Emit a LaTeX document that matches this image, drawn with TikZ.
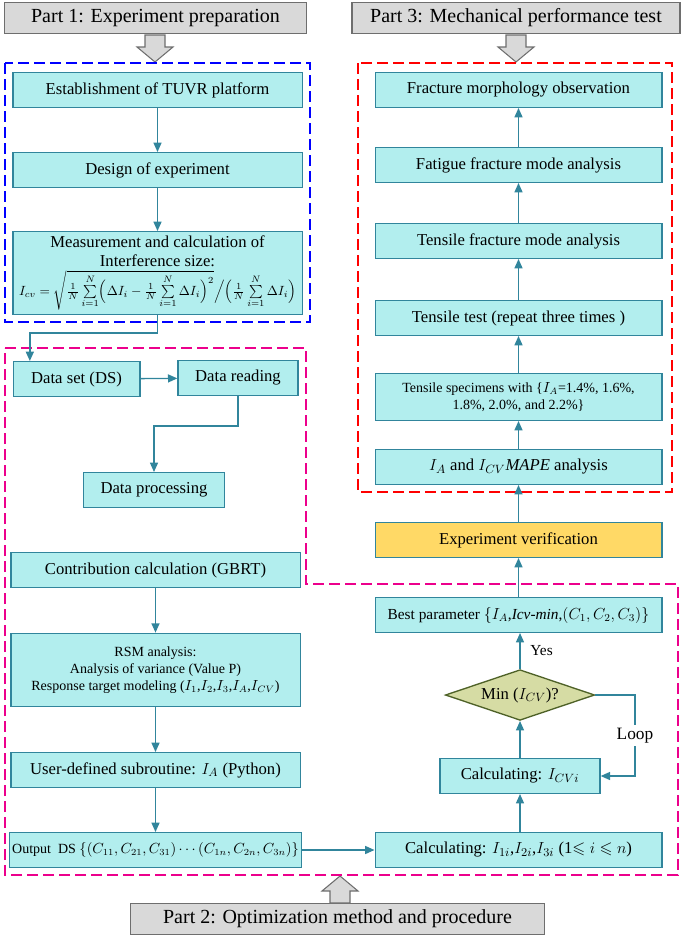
\documentclass[tikz,border=0pt]{standalone}
\usepackage{amssymb}
\usepackage{fontspec}
\setmainfont{Liberation Serif}
\usetikzlibrary{arrows.meta,shapes.geometric}
\definecolor{boxfill}{RGB}{178,238,238}
\definecolor{boxline}{RGB}{49,133,156}
\definecolor{headfill}{RGB}{217,217,217}
\definecolor{headline}{RGB}{110,110,110}
\definecolor{verfill}{RGB}{255,217,102}
\definecolor{decfill}{RGB}{214,220,164}
\definecolor{decline}{RGB}{79,98,40}
\tikzset{
  box/.style={draw=boxline, fill=boxfill, line width=1pt, minimum height=26pt, align=center, inner sep=2pt, font=\fontsize{12.5}{14}\selectfont},
  lbox/.style={box, minimum width=217pt},
  rbox/.style={box, minimum width=215pt},
  head/.style={draw=headline, fill=headfill, line width=0.8pt, minimum height=23pt, font=\fontsize{15}{17}\selectfont},
  flow/.style={draw=boxline, line width=1pt, -{Triangle[length=7pt,width=6pt]}},
  blockarr/.style={draw=headline, fill=headfill, line width=0.8pt},
}
\begin{document}
\begin{tikzpicture}[x=0.75pt,y=0.75pt,yscale=-1,xscale=1]
\useasboundingbox (0,0) rectangle (685,939);

% headers
\node[head, minimum width=226pt] (part1) at (155.5,18) {Part 1: Experiment preparation};
\node[head, minimum width=246pt] (part3) at (516,18) {Part 3: Mechanical performance test};
\node[head, minimum width=311pt] (part2) at (337.5,919) {Part 2: Optimization method and procedure};

\draw[blockarr] (145,35) -- (165,35) -- (165,47) -- (173,47) -- (155,62) -- (137,47) -- (145,47) -- cycle;
\draw[blockarr] (506,35) -- (526,35) -- (526,47) -- (534,47) -- (516,62) -- (498,47) -- (506,47) -- cycle;
\draw[blockarr] (330,903) -- (350,903) -- (350,891) -- (358,891) -- (340,876) -- (322,891) -- (330,891) -- cycle;

% dashed frames
\draw[blue, line width=1pt, dash pattern=on 8pt off 4pt] (5,63) rectangle (310,322);
\draw[red, line width=1pt, dash pattern=on 8pt off 4pt] (358,63) rectangle (672,492);
\draw[magenta, line width=1pt, dash pattern=on 8pt off 4pt] (5,348) -- (306,348) -- (306,584) -- (678,584) -- (678,875) -- (5,875) -- cycle;

% part 1
\node[lbox, minimum height=62pt, inner sep=1pt, font=\fontsize{12.5}{14.5}\selectfont] (meas) at (157.5,273) {Measurement and calculation of\\Interference size:\\[2pt]
  {\fontsize{9.8}{11}\selectfont $I_{cv}=\sqrt{\frac{1}{N}\sum\limits_{i=1}^{N}\Bigl(\Delta I_i-\frac{1}{N}\sum\limits_{i=1}^{N}\Delta I_i\Bigr)^{2}}\Big/\Bigl(\frac{1}{N}\sum\limits_{i=1}^{N}\Delta I_i\Bigr)$}};
\node[lbox] (est) at (157.5,90) {Establishment of TUVR platform};
\node[lbox] (design) at (157.5,170) {Design of experiment};

% part 2 left
\node[box, minimum width=95pt] (ds) at (76.5,379) {Data set (DS)};
\node[box, minimum width=90pt] (read) at (238,378) {Data reading};
\node[box, minimum width=106pt] (proc) at (154,490) {Data processing};
\node[lbox] (contrib) at (155.5,570) {Contribution calculation (GBRT)};
\node[lbox, minimum height=55pt, font=\fontsize{10.5}{13}\selectfont] (rsm) at (155.5,670) {RSM analysis:\\Analysis of variance (Value P)\\Response target modeling ($I_1$,$I_2$,$I_3$,$I_A$,$I_{CV}$)};
\node[lbox] (user) at (155.5,770) {User-defined subroutine: $I_A$ (Python)};
\node[lbox, font=\fontsize{10.5}{13}\selectfont] (out) at (155.5,850) {Output\ \ DS $\{(C_{11},C_{21},C_{31})\cdots(C_{1n},C_{2n},C_{3n})\}$};

% part 2 right
\node[rbox] (calc) at (518.5,850) {Calculating: $I_{1i}$,$I_{2i}$,$I_{3i}$ (1$\leqslant i\leqslant n$)};
\node[box, minimum width=120pt] (calci) at (520,776) {Calculating: $I_{CVi}$};
\node[diamond, draw=decline, fill=decfill, line width=1pt, minimum width=112pt, minimum height=38pt, aspect=3, inner sep=0pt, font=\fontsize{12.5}{14}\selectfont] (minicv) at (520,695) {Min ($I_{CV}$)?};
\node[rbox, font=\fontsize{11.5}{14}\selectfont] (best) at (518.5,615) {Best parameter $\{I_A$,\textit{Icv-min},$(C_1,C_2,C_3)\}$};
\node[rbox, fill=verfill] (verif) at (518.5,540) {Experiment verification};

% part 3
\node[rbox] (mape) at (518.5,467) {$I_A$ and $I_{CV}$\textit{MAPE} analysis};
\node[rbox, minimum height=35pt, font=\fontsize{10.5}{13}\selectfont] (spec) at (518.5,397) {Tensile specimens with \{$I_A$=1.4\%, 1.6\%,\\1.8\%, 2.0\%, and 2.2\%\}};
\node[rbox] (ttest) at (518.5,318) {Tensile test (repeat three times )};
\node[rbox] (tfrac) at (518.5,241) {Tensile fracture mode analysis};
\node[rbox] (fatig) at (518.5,165) {Fatigue fracture mode analysis};
\node[rbox] (frac) at (518.5,90) {Fracture morphology observation};

\coordinate (loopr) at (635,695);

% connectors
\draw[flow] (meas.south) -- ++(0,18) -| ([xshift=-35pt]ds.north);
\draw[flow] (est) -- (design);
\draw[flow] (design) -- (meas);
\draw[flow] (ds) -- (read);
\draw[flow] (read.south) -- ++(0,30) -| (proc.north);
\draw[flow] (contrib) -- (rsm);
\draw[flow] (rsm) -- (user);
\draw[flow] (user) -- (out);
\draw[flow] (out) -- (calc);
\draw[flow] (calc.north -| calci) -- (calci);
\draw[flow] (calci) -- (minicv);
\draw[flow] (minicv.east) -- (loopr) |- (calci.east) node[pos=0.25, fill=white, inner sep=2pt, font=\fontsize{13}{15}\selectfont] {Loop};
\draw[flow] (minicv.north) -- (minicv.north |- best.south) node[midway, right=4pt, font=\fontsize{11.5}{14}\selectfont] {Yes};
\draw[flow] (best) -- (verif);
\draw[flow] (verif) -- (mape);
\draw[flow] (mape) -- (spec);
\draw[flow] (spec) -- (ttest);
\draw[flow] (ttest) -- (tfrac);
\draw[flow] (tfrac) -- (fatig);
\draw[flow] (fatig) -- (frac);

\end{tikzpicture}
\end{document}
